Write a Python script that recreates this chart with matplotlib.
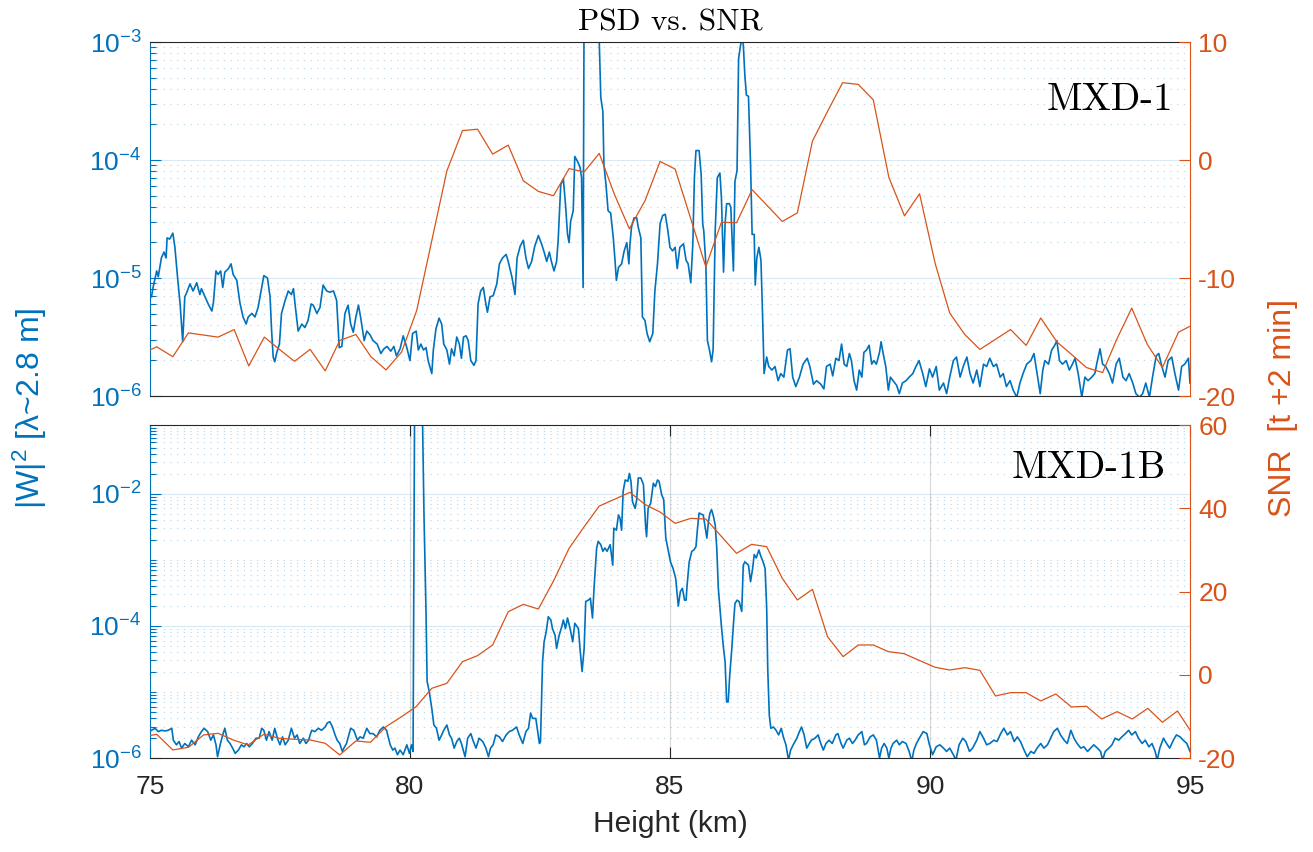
import numpy as np
import matplotlib
matplotlib.use("Agg")
import matplotlib.pyplot as plt
from matplotlib.ticker import FixedLocator, FuncFormatter, NullFormatter

plt.rcParams['font.family'] = ['Liberation Sans', 'DejaVu Sans']
plt.rcParams['mathtext.default'] = 'regular'
plt.rcParams['axes.unicode_minus'] = False

# ---------------- data ----------------
# MXD-1 : |W|^2 (log10 of value) vs height
h_psd1 = [75.03, 75.06, 75.13, 75.16, 75.22, 75.27, 75.31, 75.33, 75.38, 75.44,
          75.48, 75.53, 75.58, 75.63, 75.67, 75.71, 75.77, 75.83, 75.90, 75.96,
          75.99, 76.06, 76.12, 76.19, 76.22, 76.27, 76.31, 76.36, 76.40, 76.44,
          76.51, 76.56, 76.60, 76.67, 76.73, 76.79, 76.85, 76.89, 76.96, 77.02,
          77.08, 77.15, 77.19, 77.26, 77.31, 77.34, 77.37, 77.40, 77.44, 77.49,
          77.53, 77.60, 77.66, 77.72, 77.76, 77.79, 77.85, 77.92, 77.98, 78.04,
          78.10, 78.14, 78.21, 78.27, 78.33, 78.40, 78.46, 78.53, 78.59, 78.64,
          78.69, 78.75, 78.81, 78.86, 78.91, 78.96, 79.01, 79.05, 79.12, 79.17,
          79.23, 79.29, 79.37, 79.44, 79.50, 79.56, 79.63, 79.69, 79.74, 79.81,
          79.87, 79.94, 80.00, 80.05, 80.12, 80.16, 80.21, 80.26, 80.31, 80.35,
          80.42, 80.45, 80.50, 80.56, 80.61, 80.65, 80.71, 80.76, 80.80, 80.85,
          80.90, 80.95, 80.99, 81.03, 81.08, 81.12, 81.17, 81.23, 81.27, 81.31,
          81.36, 81.41, 81.46, 81.49, 81.54, 81.60, 81.67, 81.72, 81.78, 81.85,
          81.89, 81.96, 82.02, 82.06, 82.12, 82.18, 82.23, 82.28, 82.34, 82.40,
          82.47, 82.53, 82.58, 82.63, 82.68, 82.72, 82.77, 82.82, 82.85, 82.90,
          82.95, 82.99, 83.03, 83.06, 83.09, 83.14, 83.17, 83.22, 83.27, 83.30,
          83.33, 83.35, 83.60, 83.64, 83.67, 83.71, 83.73, 83.77, 83.81, 83.86,
          83.91, 83.94, 83.97, 84.01, 84.07, 84.12, 84.17, 84.21, 84.23, 84.26,
          84.31, 84.36, 84.39, 84.44, 84.47, 84.52, 84.56, 84.61, 84.67, 84.71,
          84.76, 84.81, 84.86, 84.91, 84.96, 85.00, 85.05, 85.10, 85.14, 85.19,
          85.26, 85.31, 85.35, 85.40, 85.44, 85.47, 85.50, 85.56, 85.60, 85.63,
          85.65, 85.69, 85.72, 85.76, 85.80, 85.83, 85.87, 85.91, 85.96, 85.99,
          86.03, 86.06, 86.09, 86.14, 86.17, 86.22, 86.25, 86.29, 86.32, 86.35,
          86.38, 86.41, 86.44, 86.47, 86.51, 86.55, 86.58, 86.62, 86.64, 86.67,
          86.71, 86.75, 86.78, 86.81, 86.86, 86.90, 86.96, 87.02, 87.08, 87.13,
          87.19, 87.26, 87.31, 87.36, 87.42, 87.49, 87.56, 87.64, 87.69, 87.76,
          87.82, 87.90, 87.96, 88.01, 88.08, 88.13, 88.19, 88.25, 88.30, 88.35,
          88.40, 88.45, 88.49, 88.54, 88.59, 88.64, 88.69, 88.73, 88.78, 88.83,
          88.88, 88.92, 88.97, 89.03, 89.06, 89.10, 89.15, 89.20, 89.24, 89.29,
          89.36, 89.41, 89.47, 89.54, 89.60, 89.67, 89.73, 89.79, 89.86, 89.92,
          89.99, 90.05, 90.12, 90.18, 90.26, 90.32, 90.38, 90.45, 90.51, 90.58,
          90.64, 90.71, 90.77, 90.83, 90.90, 90.96, 91.03, 91.09, 91.15, 91.22,
          91.28, 91.35, 91.41, 91.47, 91.54, 91.60, 91.67, 91.73, 91.79, 91.86,
          91.94, 92.00, 92.06, 92.12, 92.17, 92.21, 92.28, 92.34, 92.40, 92.44,
          92.49, 92.55, 92.62, 92.68, 92.74, 92.79, 92.85, 92.92, 92.98, 93.04,
          93.11, 93.17, 93.22, 93.27, 93.32, 93.38, 93.45, 93.51, 93.58, 93.64,
          93.71, 93.77, 93.83, 93.90, 93.96, 94.03, 94.09, 94.15, 94.22, 94.28,
          94.35, 94.40, 94.46, 94.52, 94.58, 94.65, 94.71, 94.78, 94.84, 94.90,
          94.97, 95.00]
psd1_log = [-5.16, -5.08, -4.94, -4.99, -4.83, -4.78, -4.83, -4.66, -4.67, -4.62,
            -4.74, -4.99, -5.22, -5.54, -5.16, -5.12, -5.05, -5.11, -5.04, -5.14,
            -5.09, -5.16, -5.22, -5.28, -5.21, -4.94, -4.97, -4.94, -5.08, -4.95,
            -4.92, -4.88, -4.97, -5.02, -5.21, -5.33, -5.39, -5.33, -5.30, -5.33,
            -5.25, -5.08, -4.98, -5.00, -5.16, -5.45, -5.67, -5.71, -5.63, -5.56,
            -5.30, -5.19, -5.11, -5.14, -5.09, -5.22, -5.45, -5.39, -5.42, -5.36,
            -5.22, -5.23, -5.30, -5.25, -5.06, -5.11, -5.12, -5.11, -5.19, -5.59,
            -5.58, -5.30, -5.23, -5.39, -5.46, -5.33, -5.23, -5.33, -5.53, -5.45,
            -5.48, -5.53, -5.56, -5.64, -5.60, -5.58, -5.62, -5.58, -5.66, -5.60,
            -5.49, -5.59, -5.70, -5.47, -5.45, -5.61, -5.56, -5.61, -5.59, -5.70,
            -5.81, -5.61, -5.43, -5.34, -5.39, -5.56, -5.61, -5.73, -5.60, -5.66,
            -5.50, -5.56, -5.68, -5.50, -5.49, -5.53, -5.70, -5.74, -5.70, -5.22,
            -5.11, -5.08, -5.22, -5.29, -5.16, -5.15, -5.05, -4.88, -4.83, -4.80,
            -4.86, -4.99, -5.14, -4.83, -4.73, -4.68, -4.83, -4.92, -4.86, -4.73,
            -4.64, -4.71, -4.78, -4.86, -4.78, -4.86, -4.94, -4.86, -4.68, -4.21,
            -4.16, -4.37, -4.63, -4.70, -4.52, -4.43, -3.97, -4.01, -4.06, -4.15,
            -5.08, -2.50, -2.50, -2.99, -3.47, -3.59, -4.04, -4.21, -4.43, -4.45,
            -4.66, -4.83, -5.02, -4.91, -4.88, -4.77, -4.70, -4.88, -4.72, -4.57,
            -4.49, -4.49, -4.57, -4.66, -5.33, -5.36, -5.47, -5.54, -5.47, -5.11,
            -4.88, -4.54, -4.47, -4.46, -4.60, -4.74, -4.77, -4.74, -4.92, -4.74,
            -4.71, -4.85, -4.88, -5.04, -4.71, -4.15, -3.92, -3.92, -4.12, -4.54,
            -4.60, -4.88, -5.53, -5.61, -5.71, -5.61, -4.60, -4.15, -4.11, -4.32,
            -4.95, -4.54, -4.37, -4.37, -4.40, -4.94, -4.18, -4.09, -3.14, -3.05,
            -2.97, -3.02, -3.28, -3.45, -3.46, -4.04, -4.63, -4.63, -5.06, -4.83,
            -4.74, -4.85, -5.30, -5.81, -5.67, -5.75, -5.78, -5.75, -5.87, -5.81,
            -5.84, -5.61, -5.60, -5.84, -5.92, -5.84, -5.73, -5.68, -5.75, -5.90,
            -5.87, -5.90, -5.94, -5.75, -5.73, -5.83, -5.68, -5.70, -5.56, -5.73,
            -5.75, -5.64, -5.70, -5.87, -5.95, -5.78, -5.84, -5.63, -5.61, -5.57,
            -5.73, -5.70, -5.73, -5.63, -5.54, -5.64, -5.75, -5.95, -5.84, -5.87,
            -5.91, -5.98, -5.89, -5.87, -5.84, -5.81, -5.75, -5.70, -5.81, -5.92,
            -5.77, -5.84, -5.75, -5.95, -5.89, -5.98, -5.84, -5.70, -5.67, -5.84,
            -5.75, -5.67, -5.81, -5.89, -5.78, -5.92, -5.73, -5.75, -5.68, -5.75,
            -5.73, -5.84, -5.81, -5.92, -5.87, -5.95, -6.01, -5.89, -5.81, -5.73,
            -5.70, -5.64, -5.81, -5.98, -5.78, -5.70, -5.73, -5.61, -5.57, -5.53,
            -5.70, -5.73, -5.70, -5.78, -5.73, -5.68, -5.81, -6.01, -5.84, -5.87,
            -5.84, -5.81, -5.70, -5.60, -5.73, -5.75, -5.81, -5.89, -5.73, -5.68,
            -5.84, -5.87, -5.81, -5.89, -5.98, -6.01, -5.98, -5.89, -6.01, -5.84,
            -5.66, -5.64, -5.75, -5.84, -5.70, -5.67, -5.81, -5.95, -5.75, -5.73,
            -5.68, -5.89]

# MXD-1 : SNR
h_snr1 = [75.00, 75.13, 75.44, 75.74, 76.31, 76.62, 76.90, 77.20, 77.49, 77.78,
          78.08, 78.37, 78.65, 78.96, 79.25, 79.54, 79.84, 80.13, 80.71, 81.01,
          81.30, 81.59, 81.89, 82.18, 82.47, 82.76, 83.06, 83.35, 83.64, 83.93,
          84.22, 84.52, 84.81, 85.10, 85.69, 85.99, 86.28, 86.58, 87.16, 87.45,
          87.74, 88.03, 88.32, 88.62, 88.91, 89.21, 89.51, 89.80, 90.10, 90.38,
          90.67, 90.96, 91.55, 91.85, 92.13, 92.44, 92.72, 93.01, 93.32, 93.59,
          93.88, 94.18, 94.47, 94.78, 95.00]
snr1 = [-16.10, -15.83, -16.67, -14.65, -15.01, -14.37, -17.45, -15.01, -16.05, -17.06,
        -16.05, -17.87, -15.29, -14.79, -16.67, -17.79, -16.27, -12.75, -0.92, 2.49,
        2.61, 0.50, 1.26, -1.76, -2.66, -3.03, -0.73, -1.01, 0.56, -2.89,
        -5.83, -3.45, -0.12, -0.77, -9.05, -5.27, -5.32, -2.52, -5.21, -4.48,
        1.60, 4.12, 6.55, 6.41, 5.10, -1.48, -4.73, -2.86, -8.77, -12.97,
        -14.79, -16.05, -14.37, -15.71, -13.39, -15.41, -16.47, -17.59, -18.01, -15.21,
        -12.55, -15.63, -17.59, -14.59, -14.09]

# MXD-1B : |W|^2 (log10 of value) vs height
h_psd2 = [75.03, 75.10, 75.16, 75.22, 75.29, 75.35, 75.42, 75.45, 75.51, 75.56,
          75.61, 75.67, 75.74, 75.80, 75.87, 75.93, 75.99, 76.04, 76.11, 76.17,
          76.22, 76.27, 76.30, 76.35, 76.40, 76.44, 76.49, 76.54, 76.59, 76.64,
          76.70, 76.76, 76.81, 76.86, 76.91, 76.97, 77.04, 77.10, 77.15, 77.19,
          77.24, 77.29, 77.35, 77.40, 77.45, 77.50, 77.55, 77.60, 77.66, 77.72,
          77.78, 77.83, 77.88, 77.95, 78.00, 78.05, 78.11, 78.17, 78.24, 78.30,
          78.37, 78.41, 78.46, 78.51, 78.56, 78.60, 78.65, 78.70, 78.73, 78.78,
          78.86, 78.92, 78.99, 79.04, 79.10, 79.17, 79.23, 79.29, 79.36, 79.42,
          79.49, 79.55, 79.62, 79.67, 79.71, 79.76, 79.81, 79.87, 79.94, 79.99,
          80.03, 80.06, 80.09, 80.17, 80.24, 80.27, 80.31, 80.33, 80.37, 80.42,
          80.46, 80.51, 80.56, 80.61, 80.65, 80.71, 80.76, 80.80, 80.85, 80.90,
          80.95, 80.99, 81.06, 81.11, 81.17, 81.22, 81.27, 81.33, 81.40, 81.46,
          81.51, 81.55, 81.60, 81.65, 81.72, 81.78, 81.85, 81.91, 81.97, 82.05,
          82.10, 82.17, 82.23, 82.28, 82.32, 82.36, 82.42, 82.49, 82.51, 82.55,
          82.58, 82.62, 82.66, 82.71, 82.74, 82.79, 82.82, 82.87, 82.92, 82.95,
          82.99, 83.03, 83.08, 83.13, 83.17, 83.24, 83.27, 83.31, 83.35, 83.38,
          83.43, 83.47, 83.51, 83.54, 83.59, 83.62, 83.67, 83.71, 83.75, 83.79,
          83.85, 83.90, 83.92, 83.97, 84.01, 84.04, 84.07, 84.10, 84.14, 84.19,
          84.22, 84.25, 84.28, 84.33, 84.36, 84.39, 84.44, 84.49, 84.53, 84.55,
          84.58, 84.63, 84.68, 84.72, 84.76, 84.79, 84.84, 84.88, 84.92, 84.97,
          85.01, 85.06, 85.11, 85.16, 85.20, 85.24, 85.28, 85.31, 85.33, 85.37,
          85.42, 85.46, 85.50, 85.53, 85.56, 85.61, 85.64, 85.67, 85.71, 85.74,
          85.77, 85.80, 85.83, 85.87, 85.90, 85.93, 85.96, 85.99, 86.03, 86.06,
          86.09, 86.12, 86.15, 86.19, 86.22, 86.25, 86.29, 86.33, 86.38, 86.41,
          86.44, 86.51, 86.55, 86.59, 86.62, 86.66, 86.71, 86.75, 86.79, 86.83,
          86.86, 86.88, 86.91, 86.94, 86.99, 87.04, 87.09, 87.14, 87.18, 87.23,
          87.28, 87.32, 87.37, 87.44, 87.49, 87.53, 87.58, 87.63, 87.68, 87.72,
          87.79, 87.85, 87.90, 87.95, 88.00, 88.06, 88.12, 88.19, 88.23, 88.29,
          88.33, 88.40, 88.45, 88.51, 88.56, 88.62, 88.69, 88.74, 88.78, 88.85,
          88.91, 88.97, 89.03, 89.07, 89.12, 89.17, 89.21, 89.25, 89.29, 89.36,
          89.41, 89.47, 89.54, 89.60, 89.65, 89.69, 89.74, 89.81, 89.87, 89.94,
          89.99, 90.05, 90.12, 90.19, 90.26, 90.32, 90.38, 90.45, 90.50, 90.56,
          90.63, 90.69, 90.76, 90.82, 90.90, 90.96, 91.03, 91.09, 91.15, 91.23,
          91.29, 91.36, 91.42, 91.49, 91.55, 91.62, 91.68, 91.74, 91.81, 91.87,
          91.94, 92.00, 92.06, 92.13, 92.19, 92.26, 92.32, 92.38, 92.45, 92.51,
          92.58, 92.64, 92.71, 92.77, 92.83, 92.90, 92.96, 93.03, 93.09, 93.15,
          93.22, 93.28, 93.32, 93.37, 93.44, 93.50, 93.56, 93.63, 93.69, 93.76,
          93.82, 93.88, 93.95, 94.01, 94.08, 94.14, 94.21, 94.27, 94.33, 94.37,
          94.42, 94.49, 94.55, 94.61, 94.68, 94.74, 94.81, 94.87, 94.94, 95.00]
psd2_log = [-5.58, -5.55, -5.60, -5.58, -5.59, -5.58, -5.55, -5.73, -5.80, -5.75,
            -5.85, -5.78, -5.83, -5.73, -5.80, -5.68, -5.60, -5.55, -5.60, -5.73,
            -5.65, -5.80, -5.98, -5.80, -5.65, -5.55, -5.73, -5.78, -5.85, -5.93,
            -5.88, -5.80, -5.83, -5.78, -5.83, -5.78, -5.70, -5.70, -5.55, -5.58,
            -5.73, -5.60, -5.73, -5.55, -5.70, -5.80, -5.68, -5.80, -5.73, -5.55,
            -5.70, -5.65, -5.78, -5.70, -5.78, -5.73, -5.58, -5.60, -5.55, -5.58,
            -5.53, -5.47, -5.45, -5.53, -5.65, -5.73, -5.78, -5.90, -5.85, -5.78,
            -5.55, -5.58, -5.73, -5.68, -5.70, -5.55, -5.63, -5.63, -5.68, -5.58,
            -5.53, -5.58, -5.80, -5.88, -5.85, -5.95, -5.88, -5.95, -5.80, -5.93,
            -5.80, -5.90, -0.50, -0.50, -0.80, -2.32, -3.83, -4.84, -4.99, -5.25,
            -5.50, -5.55, -5.73, -5.65, -5.58, -5.50, -5.65, -5.70, -5.85, -5.75,
            -5.70, -5.78, -5.98, -5.70, -5.63, -5.75, -5.85, -5.70, -5.75, -5.85,
            -5.98, -5.85, -5.80, -5.65, -5.68, -5.75, -5.65, -5.60, -5.58, -5.53,
            -5.65, -5.78, -5.60, -5.55, -5.32, -5.40, -5.40, -5.78, -5.75, -4.54,
            -4.24, -4.09, -3.86, -3.91, -4.04, -4.14, -4.34, -4.14, -4.01, -3.91,
            -4.04, -3.88, -4.04, -4.24, -3.96, -4.04, -4.34, -4.69, -4.34, -3.63,
            -3.61, -3.58, -3.88, -3.43, -2.82, -2.72, -2.77, -2.87, -2.82, -2.87,
            -2.77, -3.08, -2.52, -2.55, -2.32, -2.37, -2.55, -1.96, -1.79, -1.81,
            -1.69, -1.81, -2.12, -2.22, -2.09, -1.76, -1.76, -1.86, -2.47, -2.65,
            -2.22, -2.14, -1.84, -1.89, -1.79, -1.81, -2.01, -2.09, -2.67, -2.87,
            -3.03, -3.13, -3.28, -3.70, -3.48, -3.43, -3.61, -3.61, -3.38, -3.03,
            -2.87, -2.85, -2.80, -2.52, -2.29, -2.31, -2.32, -2.47, -2.67, -2.42,
            -2.29, -2.24, -2.32, -2.47, -2.82, -3.43, -3.73, -4.01, -4.34, -4.54,
            -5.15, -5.15, -4.74, -4.34, -3.98, -3.66, -3.61, -3.63, -3.78, -3.08,
            -3.03, -3.08, -3.33, -3.13, -2.92, -2.97, -2.85, -2.95, -3.03, -3.13,
            -3.73, -4.64, -5.35, -5.55, -5.53, -5.58, -5.65, -5.55, -5.68, -5.80,
            -6.03, -5.88, -5.80, -5.70, -5.60, -5.53, -5.65, -5.85, -5.78, -5.73,
            -5.70, -5.65, -5.78, -5.88, -5.78, -5.73, -5.78, -5.65, -5.63, -5.78,
            -5.85, -5.73, -5.70, -5.78, -5.73, -5.65, -5.60, -5.80, -5.78, -5.68,
            -5.65, -5.73, -6.00, -5.85, -5.78, -5.85, -6.00, -5.85, -5.78, -5.73,
            -5.80, -5.75, -5.78, -5.90, -6.05, -5.88, -5.78, -5.68, -5.60, -5.63,
            -5.80, -5.95, -5.83, -5.80, -5.85, -5.90, -5.85, -5.95, -6.03, -5.80,
            -5.70, -5.75, -5.90, -5.85, -5.73, -5.60, -5.70, -5.80, -5.78, -5.73,
            -5.75, -5.63, -5.55, -5.65, -5.60, -5.75, -5.68, -5.75, -5.88, -5.98,
            -5.90, -5.93, -5.85, -5.78, -5.85, -5.80, -5.70, -5.60, -5.55, -5.65,
            -5.73, -5.78, -5.58, -5.70, -5.78, -5.85, -5.83, -5.90, -5.85, -5.80,
            -5.85, -5.90, -6.03, -5.90, -5.85, -5.80, -5.70, -5.73, -5.68, -5.63,
            -5.58, -5.65, -5.60, -5.70, -5.78, -5.73, -5.83, -5.78, -5.90, -6.03,
            -5.85, -5.70, -5.78, -5.85, -5.73, -5.65, -5.68, -5.73, -5.78, -5.90]

# MXD-1B : SNR
h_snr2 = [75.00, 75.13, 75.44, 75.74, 76.03, 76.31, 76.60, 76.89, 77.19, 77.49,
          77.78, 78.08, 78.37, 78.65, 78.96, 79.24, 79.54, 79.84, 80.12, 80.42,
          80.71, 81.01, 81.30, 81.59, 81.89, 82.18, 82.47, 82.77, 83.06, 83.35,
          83.64, 83.93, 84.23, 84.52, 84.81, 85.10, 85.40, 85.69, 86.28, 86.57,
          86.86, 87.16, 87.45, 87.74, 88.03, 88.33, 88.62, 88.91, 89.20, 89.50,
          89.79, 90.10, 90.38, 90.67, 90.96, 91.26, 91.55, 91.85, 92.13, 92.42,
          92.72, 93.01, 93.30, 93.60, 93.89, 94.19, 94.47, 94.76, 95.00]
snr2 = [-14.60, -14.30, -18.06, -17.42, -14.46, -14.06, -15.66, -16.86, -14.30, -15.26,
        -15.50, -15.66, -16.46, -19.26, -15.90, -16.22, -12.46, -10.06, -7.65, -3.25,
        -2.05, 3.15, 4.60, 7.16, 15.16, 16.92, 15.80, 22.77, 30.38, 35.58,
        40.54, 42.15, 43.83, 40.94, 39.10, 36.38, 37.58, 37.42, 29.18, 31.34,
        30.78, 23.17, 17.97, 20.53, 9.16, 4.36, 7.16, 7.16, 5.56, 5.08,
        3.48, 1.80, 1.15, 1.71, 1.07, -5.09, -4.29, -4.29, -6.29, -4.61,
        -7.73, -7.57, -10.62, -8.86, -10.62, -8.06, -11.42, -8.70, -13.26]

blue = '#0072BD'
orange = '#D95319'
dark = '#262626'
fs = 19
fs_lab = 23

fig = plt.figure(figsize=(13.13, 8.52), dpi=100)
ax1 = fig.add_axes([0.1142, 0.5352, 0.7921, 0.4155])
ax2 = fig.add_axes([0.1142, 0.1103, 0.7921, 0.3908])


def style(ax, tw, ylim, majors, snr_lim, snr_ticks, xgrid):
    ax.set_yscale('log')
    ax.set_xlim(75, 95)
    ax.set_ylim(*ylim)
    ax.yaxis.set_major_locator(FixedLocator(majors))
    lo, hi = int(np.floor(np.log10(ylim[0]))), int(np.ceil(np.log10(ylim[1])))
    minors = [k * 10.0 ** e for e in range(lo, hi + 1) for k in range(1, 10)]
    minors = [m for m in minors if ylim[0] <= m <= ylim[1]]
    ax.yaxis.set_minor_locator(FixedLocator(minors))
    ax.yaxis.set_major_formatter(FuncFormatter(lambda v, p: r'$10^{%d}$' % round(np.log10(v))))
    ax.yaxis.set_minor_formatter(NullFormatter())
    ax.set_axisbelow(True)
    ax.yaxis.grid(True, which='major', color=blue, alpha=0.15, lw=0.8)
    ax.yaxis.grid(True, which='minor', color=blue, alpha=0.3, lw=0.8, ls=(0, (1, 5)))
    ax.tick_params(axis='y', which='major', direction='in', length=8, width=0.8,
                   color=blue, labelcolor=blue, labelsize=fs, pad=6)
    ax.tick_params(axis='y', which='minor', direction='in', length=4, width=0.8, color=blue)
    for s in ['top', 'bottom']:
        ax.spines[s].set_color(dark)
        ax.spines[s].set_linewidth(0.8)
    ax.spines['left'].set_color(blue)
    ax.spines['left'].set_linewidth(0.8)
    ax.spines['right'].set_visible(False)
    if xgrid:
        ax.set_xticks([75, 80, 85, 90, 95])
        ax.xaxis.grid(True, which='major', color='#d9d9d9', lw=0.9)
        ax.tick_params(axis='x', direction='in', length=8, width=0.8, color=dark,
                       labelcolor=dark, labelsize=fs, top=True, pad=12)
    else:
        ax.set_xticks([])

    tw.set_ylim(*snr_lim)
    tw.set_yticks(snr_ticks)
    tw.tick_params(axis='y', direction='in', length=8, width=0.8, color=orange,
                   labelcolor=orange, labelsize=fs, pad=6)
    for s in ['top', 'bottom', 'left']:
        tw.spines[s].set_visible(False)
    tw.spines['right'].set_color(orange)
    tw.spines['right'].set_linewidth(0.8)


# top panel
ax1.plot(h_psd1, 10.0 ** np.array(psd1_log), color=blue, lw=1.2)
tw1 = ax1.twinx()
tw1.plot(h_snr1, snr1, color=orange, lw=0.9)
style(ax1, tw1, (1e-6, 1e-3), [1e-6, 1e-5, 1e-4, 1e-3], (-20, 10), [-20, -10, 0, 10], False)
ax1.text(0.984, 0.836, 'MXD-1', transform=ax1.transAxes, ha='right', va='center',
         fontsize=28, family=['cmr10', 'DejaVu Serif'], color='black', zorder=5)

# bottom panel
ax2.plot(h_psd2, 10.0 ** np.array(psd2_log), color=blue, lw=1.2)
tw2 = ax2.twinx()
tw2.plot(h_snr2, snr2, color=orange, lw=0.9)
style(ax2, tw2, (1e-6, 0.11), [1e-6, 1e-4, 1e-2], (-20, 60), [-20, 0, 20, 40, 60], True)
ax2.text(0.977, 0.871, 'MXD-1B', transform=ax2.transAxes, ha='right', va='center',
         fontsize=28, family=['cmr10', 'DejaVu Serif'], color='black', zorder=5)
ax2.set_xlabel('Height (km)', fontsize=21.5, color=dark, labelpad=8)

fig.text(0.5103, 0.974, 'PSD vs. SNR', ha='center', va='center', fontsize=22.5,
         family=['cmr10', 'DejaVu Serif'])
fig.text(0.023, 0.521, r'|W|$^2$ [λ~2.8 m]', rotation=90, ha='center', va='center',
         fontsize=fs_lab, color=blue)
fig.text(0.977, 0.521, 'SNR  [t +2 min]', rotation=90, ha='center', va='center',
         fontsize=fs_lab, color=orange)

fig.savefig('out.png', dpi=100)
